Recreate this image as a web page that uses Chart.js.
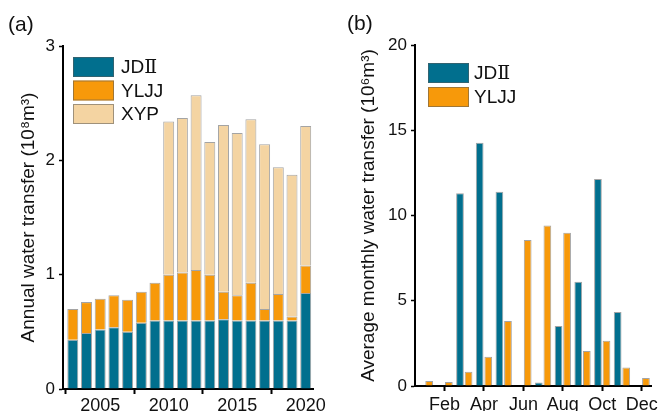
<!DOCTYPE html>
<html>
<head>
<meta charset="utf-8">
<script src="https://cdn.jsdelivr.net/npm/chart.js@4.4.1/dist/chart.umd.min.js"></script>
<style>
  html, body { margin: 0; padding: 0; background: #fff; }
  #wrap { position: relative; width: 660px; height: 411px; overflow: hidden; }
  canvas { position: absolute; top: 0; }
  #annual { left: 0; }
  #monthly { left: 330px; }
</style>
</head>
<body>
<div id="wrap">
  <canvas id="annual" width="330" height="411"></canvas>
  <canvas id="monthly" width="330" height="411"></canvas>
</div>
<script>
// ---- (a) annual water transfer by route, 10^8 m^3 ----
const years = [2003, 2004, 2005, 2006, 2007, 2008, 2009, 2010, 2011,
               2012, 2013, 2014, 2015, 2016, 2017, 2018, 2019, 2020];
const yearTicks = [2005, 2010, 2015, 2020];
const annualJD2  = [0.43, 0.49, 0.52, 0.54, 0.50, 0.58, 0.60, 0.60, 0.60,
                    0.60, 0.60, 0.61, 0.60, 0.60, 0.60, 0.60, 0.60, 0.84];
const annualYLJJ = [0.27, 0.27, 0.27, 0.28, 0.28, 0.27, 0.33, 0.40, 0.42,
                    0.44, 0.40, 0.24, 0.22, 0.33, 0.10, 0.23, 0.035, 0.24];
const annualXYP  = [null, null, null, null, null, null, null, 1.34, 1.35,
                    1.53, 1.16, 1.46, 1.42, 1.43, 1.44, 1.11, 1.24, 1.22];
const annualYTicks = [0, 1, 2, 3];

// ---- (b) average monthly water transfer, 10^6 m^3 ----
const months = ['Jan', 'Feb', 'Mar', 'Apr', 'May', 'Jun',
                'Jul', 'Aug', 'Sep', 'Oct', 'Nov', 'Dec'];
const monthlyJD2  = [0, 0, 11.3, 14.27, 11.4, 0, 0.21, 3.52, 6.12, 12.14, 4.34, 0];
const monthlyYLJJ = [0.29, 0.23, 0.84, 1.72, 3.81, 8.56, 9.42, 8.99, 2.05, 2.66, 1.09, 0.47];
const monthlyYTicks = [0, 5, 10, 15, 20];

const TEAL = '#016f8e';
const ORANGE = '#f7990a';
const TAN = '#f4d4a2';
const EDGE = 'rgba(90, 90, 90, 0.55)';
const INK = '#111';
const SANS = '"Liberation Sans", Arial, Helvetica, sans-serif';
const SERIF = '"DejaVu Serif", "Liberation Serif", serif';

Chart.defaults.font.family = SANS;
Chart.defaults.color = INK;
Chart.defaults.animation = false;

// Writes a label, setting the Roman numeral in a serif face.
function drawLabel(ctx, text, x, y, size) {
  text.split(/(Ⅱ)/).forEach(part => {
    if (!part) return;
    ctx.font = size + 'px ' + (part === 'Ⅱ' ? SERIF : SANS);
    ctx.fillText(part, x, y);
    x += ctx.measureText(part).width;
  });
}

// Boxed legend inside the plot area plus the panel tag in the corner.
const boxLegend = {
  id: 'boxLegend',
  afterDraw(chart, args, opts) {
    const ctx = chart.ctx;
    ctx.save();
    ctx.fillStyle = INK;
    ctx.font = opts.tagSize + 'px ' + SANS;
    ctx.textAlign = 'left';
    ctx.textBaseline = 'alphabetic';
    ctx.fillText(opts.tag, opts.tagX, opts.tagY);

    ctx.textBaseline = 'middle';
    chart.data.datasets.forEach((ds, i) => {
      const y = opts.y + i * opts.step;
      ctx.fillStyle = ds.backgroundColor;
      ctx.fillRect(opts.x, y, opts.boxW, opts.boxH);
      ctx.strokeStyle = ds.borderColor;
      ctx.lineWidth = 1;
      ctx.strokeRect(opts.x + 0.5, y + 0.5, opts.boxW - 1, opts.boxH - 1);
      ctx.fillStyle = INK;
      drawLabel(ctx, ds.label, opts.x + opts.boxW + opts.gap, y + opts.boxH / 2 + 1, opts.size);
    });
    ctx.restore();
  }
};

function valueAxis(tickValues, max, title, titlePad, width) {
  return {
    min: 0,
    max: max,
    stacked: true,
    afterBuildTicks: s => { s.ticks = tickValues.map(v => ({ value: v })); },
    ticks: { font: { size: 17 }, padding: 4, color: INK },
    grid: { display: true, drawOnChartArea: false, drawTicks: true,
            tickLength: 4, tickWidth: 1.5, tickColor: '#000' },
    border: { display: true, color: '#000', width: 2 },
    title: { display: true, text: title, font: { size: 19 },
             padding: { top: titlePad, bottom: 0 }, color: INK },
    afterFit: s => { s.width = width; s.paddingTop = 0; s.paddingBottom = 0; }
  };
}

new Chart(document.getElementById('annual'), {
  type: 'bar',
  data: {
    datasets: [
      { label: 'JDⅡ', data: years.map((yr, i) => ({ x: yr, y: annualJD2[i] })),
        backgroundColor: TEAL, borderColor: EDGE, borderWidth: 1 },
      { label: 'YLJJ', data: years.map((yr, i) => ({ x: yr, y: annualYLJJ[i] })),
        backgroundColor: ORANGE, borderColor: EDGE, borderWidth: 1 },
      { label: 'XYP', data: years.map((yr, i) => ({ x: yr, y: annualXYP[i] })),
        backgroundColor: TAN, borderColor: EDGE, borderWidth: 1 }
    ]
  },
  options: {
    responsive: false,
    layout: { padding: { top: 46, right: 17, bottom: 0, left: 0 } },
    datasets: { bar: { categoryPercentage: 0.8, barPercentage: 1 } },
    plugins: {
      legend: { display: false },
      tooltip: { enabled: false },
      boxLegend: { tag: '(a)', tagSize: 21, tagX: 8, tagY: 31, size: 19,
                   x: 73, y: 57, step: 23.5, boxW: 41, boxH: 20, gap: 7 }
    },
    scales: {
      x: {
        type: 'linear',
        stacked: true,
        min: 2002.285,
        max: 2020.533,
        offset: false,
        afterBuildTicks: s => { s.ticks = yearTicks.map(v => ({ value: v })); },
        ticks: { font: { size: 18 }, padding: 1, maxRotation: 0, color: INK,
                 callback: v => String(v) },
        grid: { display: true, drawOnChartArea: false, drawTicks: true,
                tickLength: 5, tickWidth: 2, tickColor: '#000' },
        border: { display: true, color: '#000', width: 2 },
        afterFit: s => { s.height = 22; s.paddingLeft = 0; s.paddingRight = 0; }
      },
      y: valueAxis(annualYTicks, 3, 'Annual water transfer (10⁸m³)', 17, 63)
    }
  },
  plugins: [boxLegend]
});

new Chart(document.getElementById('monthly'), {
  type: 'bar',
  data: {
    labels: months,
    datasets: [
      { label: 'JDⅡ', data: monthlyJD2.map(v => v || null),
        backgroundColor: TEAL, borderColor: EDGE, borderWidth: 1 },
      { label: 'YLJJ', data: monthlyYLJJ.map(v => v || null),
        backgroundColor: ORANGE, borderColor: EDGE, borderWidth: 1 }
    ]
  },
  options: {
    responsive: false,
    layout: { padding: { top: 45, right: 8.5, bottom: 0, left: 0 } },
    datasets: { bar: { categoryPercentage: 0.87, barPercentage: 0.9 } },
    plugins: {
      legend: { display: false },
      tooltip: { enabled: false },
      boxLegend: { tag: '(b)', tagSize: 21, tagX: 17, tagY: 30, size: 19,
                   x: 98, y: 63, step: 24, boxW: 41, boxH: 20, gap: 5 }
    },
    scales: {
      x: {
        offset: true,
        ticks: { font: { size: 18 }, padding: 3, maxRotation: 0, autoSkip: false, color: INK,
                 callback: (v, i) => (i % 2 === 1 ? months[i] : '') },
        grid: { display: true, offset: false, drawOnChartArea: false, drawTicks: true,
                tickLength: 5, tickWidth: 2,
                tickColor: c => (c.index % 2 === 1 ? '#000' : 'rgba(0,0,0,0)') },
        border: { display: true, color: '#000', width: 2 },
        afterFit: s => { s.height = 25; s.paddingLeft = 0; s.paddingRight = 0; }
      },
      y: Object.assign(valueAxis(monthlyYTicks, 20, 'Average monthly water transfer (10⁶m³)', 27, 85),
                       { stacked: false })
    }
  },
  plugins: [boxLegend]
});
</script>
</body>
</html>
